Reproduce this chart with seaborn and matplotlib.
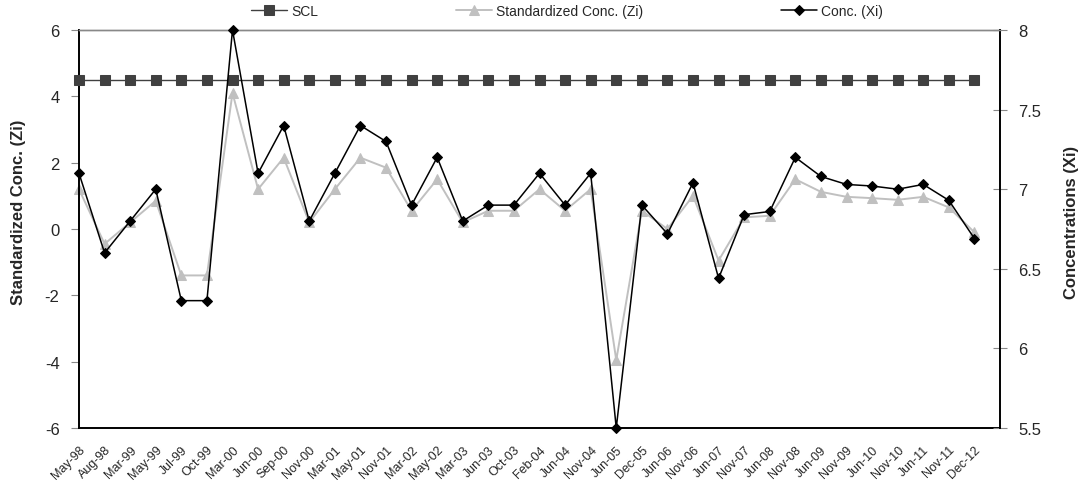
import matplotlib
matplotlib.use("Agg")
import matplotlib.pyplot as plt
import seaborn as sns
import pandas as pd

dates = ["May-98", "Aug-98", "Mar-99", "May-99", "Jul-99", "Oct-99", "Mar-00", "Jun-00",
         "Sep-00", "Nov-00", "Mar-01", "May-01", "Nov-01", "Mar-02", "May-02", "Mar-03",
         "Jun-03", "Oct-03", "Feb-04", "Jun-04", "Nov-04", "Jun-05", "Dec-05", "Jun-06",
         "Nov-06", "Jun-07", "Nov-07", "Jun-08", "Nov-08", "Jun-09", "Nov-09", "Jun-10",
         "Nov-10", "Jun-11", "Nov-11", "Dec-12"]

scl = [4.5, 4.5, 4.5, 4.5, 4.5, 4.5, 4.5, 4.5, 4.5, 4.5, 4.5, 4.5,
       4.5, 4.5, 4.5, 4.5, 4.5, 4.5, 4.5, 4.5, 4.5, 4.5, 4.5, 4.5,
       4.5, 4.5, 4.5, 4.5, 4.5, 4.5, 4.5, 4.5, 4.5, 4.5, 4.5, 4.5]

zi = [1.2, -0.45, 0.2, 0.85, -1.4, -1.4, 4.1, 1.2, 2.15, 0.2, 1.2, 2.15,
      1.85, 0.55, 1.5, 0.2, 0.55, 0.55, 1.2, 0.55, 1.2, -3.95, 0.55, 0.0,
      1.0, -0.95, 0.35, 0.4, 1.5, 1.12, 0.97, 0.93, 0.88, 0.97, 0.65, -0.1]

xi = [7.10, 6.60, 6.80, 7.00, 6.30, 6.30, 8.00, 7.10, 7.40, 6.80, 7.10, 7.40,
      7.30, 6.90, 7.20, 6.80, 6.90, 6.90, 7.10, 6.90, 7.10, 5.50, 6.90, 6.72,
      7.04, 6.44, 6.84, 6.86, 7.20, 7.08, 7.03, 7.02, 7.00, 7.03, 6.93, 6.69]

left_ticks = [-6, -4, -2, 0, 2, 4, 6]
right_ticks = [5.5, 6, 6.5, 7, 7.5, 8]

sns.set_style("white")
plt.rcParams["font.family"] = ["Liberation Sans", "DejaVu Sans"]

df = pd.DataFrame({"pos": range(len(dates)), "date": dates, "scl": scl, "zi": zi, "xi": xi})

fig = plt.figure(figsize=(10.88, 4.85), dpi=100)
ax = fig.add_axes([79 / 1088, 1 - 429 / 485, (1000 - 79) / 1088, (429 - 31) / 485])
ax2 = ax.twinx()

sns.lineplot(data=df, x="pos", y="scl", ax=ax, color="#404040", marker="s",
             markersize=7.2, markeredgecolor="#404040", linewidth=1.0, label="SCL",
             clip_on=False, zorder=3)
sns.lineplot(data=df, x="pos", y="zi", ax=ax, color="#c0c0c0", marker="^",
             markersize=7.5, markeredgecolor="#c0c0c0", linewidth=1.4,
             label="Standardized Conc. (Zi)", clip_on=False, zorder=2)
sns.lineplot(data=df, x="pos", y="xi", ax=ax2, color="black", marker="D",
             markersize=5.6, markeredgecolor="black", linewidth=1.1, label="Conc. (Xi)",
             clip_on=False, zorder=4)

for a in (ax, ax2):
    if a.get_legend() is not None:
        a.get_legend().remove()

ax.set_xlim(0, 36)
ax.set_ylim(-6, 6)
ax2.set_ylim(5.5, 8)
ax.set_yticks(left_ticks)
ax.set_yticklabels([str(t) for t in left_ticks])
ax2.set_yticks(right_ticks)
ax2.set_yticklabels([("%g" % t) for t in right_ticks])

ax.set_xticks(list(range(len(dates) + 1)))
ax.set_xticklabels(dates + [""], rotation=45, ha="right", va="top",
                   rotation_mode="anchor", fontsize=9)

ax.tick_params(axis="x", direction="in", length=4, width=0.8, color="#555555", pad=11)
ax.tick_params(axis="y", direction="out", length=6, width=0.8, color="#888888",
               labelsize=12, pad=8, left=True)
ax2.tick_params(axis="y", direction="inout", length=10, width=0.8, color="#888888",
                labelsize=12, pad=8, right=True)

for s in ("left", "bottom"):
    ax.spines[s].set_color("black")
    ax.spines[s].set_linewidth(1.4)
ax2.spines["right"].set_color("black")
ax2.spines["right"].set_linewidth(1.4)
for a in (ax, ax2):
    a.spines["top"].set_color("#888888")
    a.spines["top"].set_linewidth(1.0)
ax2.spines["left"].set_visible(False)
ax2.spines["bottom"].set_visible(False)
ax.spines["right"].set_visible(False)

ax.set_xlabel("")
ax.set_ylabel("Standardized Conc. (Zi)", fontsize=12, fontweight="bold")
ax2.set_ylabel("Concentrations (Xi)", fontsize=12, fontweight="bold")
ax.yaxis.set_label_coords(-0.0575, 0.544)
ax2.yaxis.set_label_coords(1.069, 0.519)

h1, l1 = ax.get_legend_handles_labels()
h2, l2 = ax2.get_legend_handles_labels()
fig.legend(h1 + h2, l1 + l2, loc="center", bbox_to_anchor=(567 / 1088, 1 - 12 / 485),
           ncol=3, frameon=False, fontsize=10, handlelength=2.6, handletextpad=0.3,
           columnspacing=9.9, borderpad=0, borderaxespad=0)

fig.savefig("out.png", dpi=100)
